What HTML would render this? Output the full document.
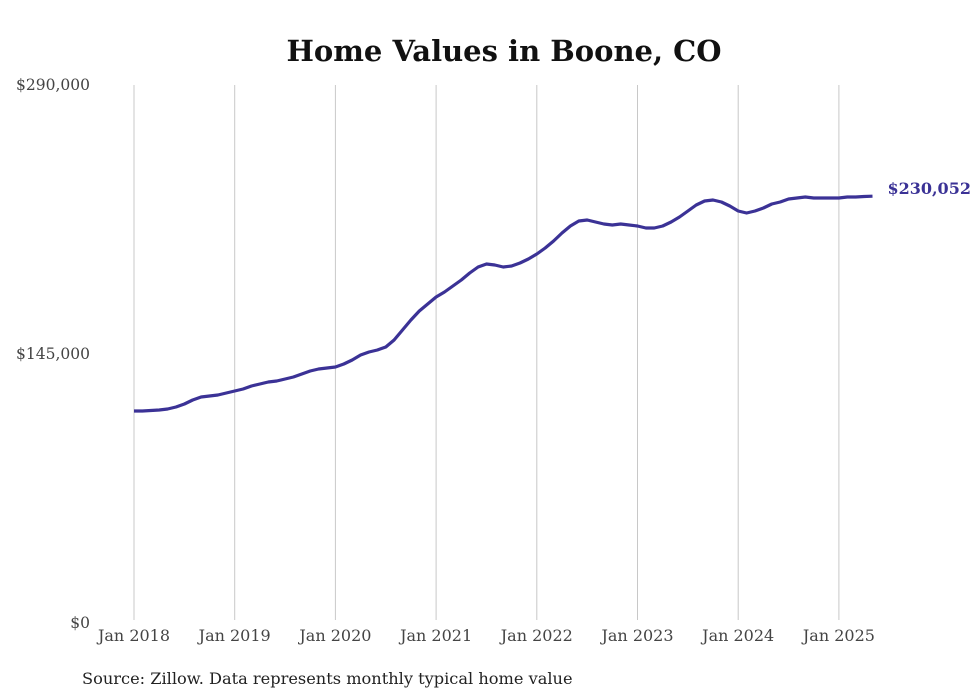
<!DOCTYPE html>
<html><head><meta charset="utf-8">
<style>
body{margin:0;background:#fff;}
svg{display:block;}
text{font-family:"DejaVu Serif","Liberation Serif",serif;}
</style></head>
<body>
<svg id="chart" width="980" height="699" viewBox="0 0 980 699" xmlns="http://www.w3.org/2000/svg">
<text x="504" y="61" text-anchor="middle" font-size="29" font-weight="bold" fill="#111">Home Values in Boone, CO</text>
<g id="grid"></g>
<g id="yaxis"></g>
<g id="xaxis"></g>
<path id="line" fill="none" stroke="#3b3296" stroke-width="3.2" stroke-linejoin="round"/>
<text id="endlabel" font-size="16" font-weight="bold" fill="#3b3296"></text>
<text x="82" y="684" font-size="16.2" fill="#222">Source: Zillow. Data represents monthly typical home value</text>
</svg>
<script>
const startYear = 2018;
const xTickLabels = ["Jan 2018","Jan 2019","Jan 2020","Jan 2021","Jan 2022","Jan 2023","Jan 2024","Jan 2025"];
const yTicks = [0,145000,290000];
const yTickLabels = ["$0","$145,000","$290,000"];
const values = [
114300,114300,114540,114810,115350,116420,118040,120200,121810,122350,122890,123970,
125050,126130,127740,128820,129900,130440,131520,132600,134210,135830,136910,137450,
137990,139600,141760,144450,146070,147150,148760,152540,157930,163320,168170,171940,
175710,178410,181640,184880,188650,191880,193500,192960,191880,192420,194040,196200,
198890,202130,205900,210210,213980,216680,217220,216140,215060,214520,215060,214520,
213980,212910,212910,213980,216140,218830,222070,225300,227460,228000,226920,224760,
222070,220990,222070,223690,225850,226920,228540,229080,229620,229080,229080,229080,
229080,229620,229620,229900,230052];
const lastLabel = "$230,052";
const svg = document.getElementById('chart');
const NS = "http://www.w3.org/2000/svg";
const x0 = 134, pxPerMonth = 100.7/12;
const yBottom = 623, yTop = 85, yMax = 290000;
function xScale(i){ return x0 + i*pxPerMonth; }
function yScale(v){ return yBottom - v/yMax*(yBottom-yTop); }
const grid = document.getElementById('grid'), xa = document.getElementById('xaxis'), ya = document.getElementById('yaxis');
xTickLabels.forEach((lab,k)=>{
  const x = xScale(k*12);
  const l = document.createElementNS(NS,'line');
  
  
  l.setAttribute('x1',x);l.setAttribute('x2',x);l.setAttribute('y1',yTop);l.setAttribute('y2',620);
  l.setAttribute('stroke','#c8c8c8');l.setAttribute('stroke-width','1');
  grid.appendChild(l);
  const t = document.createElementNS(NS,'text');
  
  
  t.setAttribute('x',x);t.setAttribute('y',641);t.setAttribute('text-anchor','middle');
  t.setAttribute('font-size','16');t.setAttribute('fill','#444');
  t.textContent = lab; xa.appendChild(t);
});
yTicks.forEach((v,k)=>{
  const t = document.createElementNS(NS,'text');
  
  
  t.setAttribute('x',90);t.setAttribute('y',yScale(v)+5);t.setAttribute('text-anchor','end');
  t.setAttribute('font-size','15.5');t.setAttribute('fill','#444');
  t.textContent = yTickLabels[k]; ya.appendChild(t);
});
let d = '';
values.forEach((v,i)=>{ d += (i?'L':'M') + xScale(i).toFixed(1) + ' ' + yScale(v).toFixed(1); });
document.getElementById('line').setAttribute('d', d);
const el = document.getElementById('endlabel');
const li = values.length-1;
el.setAttribute('x', xScale(li)+15);
el.setAttribute('y', yScale(values[li])-2);
el.textContent = lastLabel;
</script>
</body></html>
